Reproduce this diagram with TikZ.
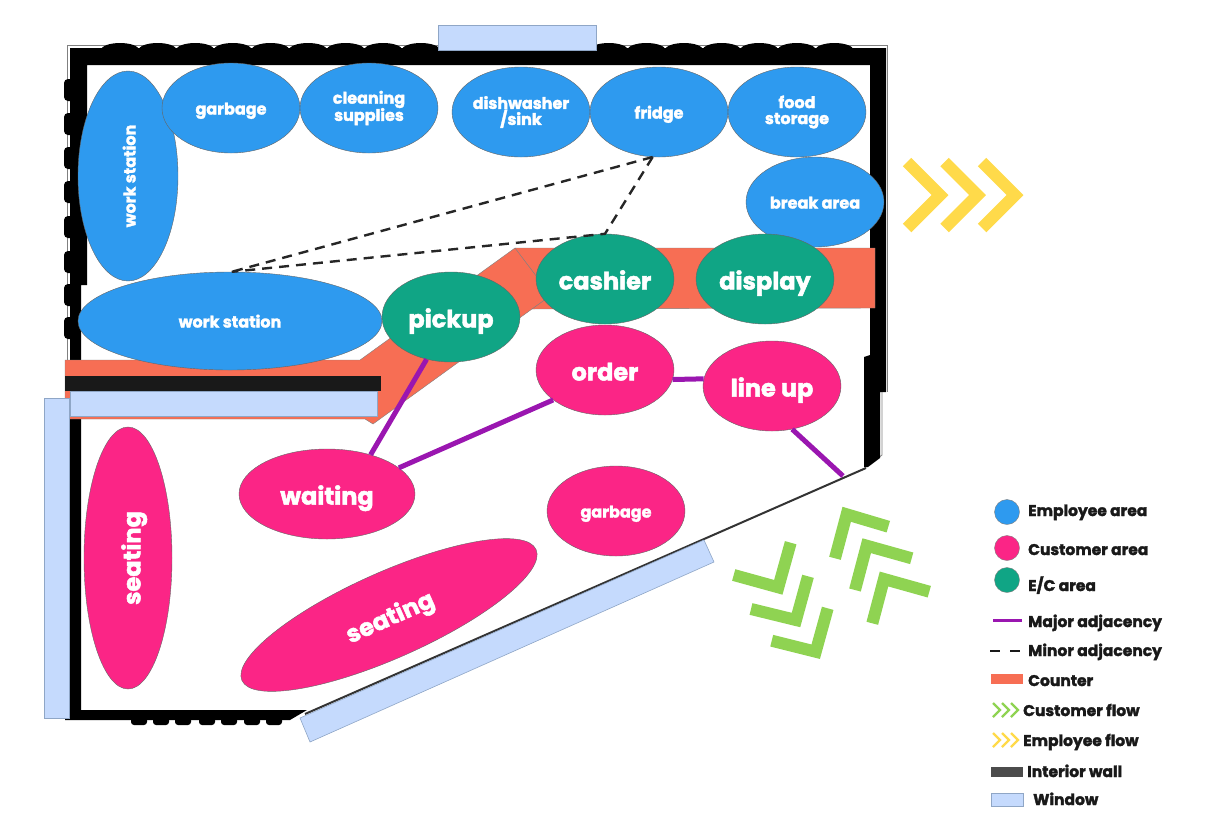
\documentclass[tikz,border=0pt]{standalone}
\usepackage{fontspec}
\setmainfont{Poppins}[FakeBold=2]
\usetikzlibrary{shapes.geometric}
\definecolor{employee}{HTML}{2E9AEF}
\definecolor{customer}{HTML}{FB2586}
\definecolor{shared}{HTML}{10A585}
\definecolor{major}{HTML}{9A16B0}
\definecolor{counter}{HTML}{F76E54}
\definecolor{glass}{HTML}{C5DAFD}
\definecolor{glassedge}{HTML}{8FA6C6}
\definecolor{custflow}{HTML}{8FD352}
\definecolor{empflow}{HTML}{FFDA4A}
\tikzset{
  room/.style={ellipse,draw=black!60,line width=0.4pt,inner sep=0pt,text=white,font=\bfseries,align=center},
  emp/.style={room,fill=employee,minimum width=138pt,minimum height=90pt},
  cust/.style={room,fill=customer,minimum width=138pt,minimum height=90pt},
  ec/.style={room,fill=shared,minimum width=138pt,minimum height=90pt},
  bigtext/.style={font=\fontsize{24}{24}\selectfont\bfseries,text height=21pt,text depth=0pt},
  smalltext/.style={font=\fontsize{16}{17}\selectfont\bfseries},
  onelinetext/.style={smalltext,text height=13pt,text depth=0pt},
  legendtext/.style={anchor=west,text=black!90,inner sep=0pt,text height=12pt,text depth=0pt,font=\fontsize{15.5}{16}\selectfont\bfseries},
  dot/.style={circle,draw=black!50,line width=0.4pt,minimum size=25pt,inner sep=0pt},
  majorline/.style={major,line width=5pt},
  minorline/.style={black!85,line width=2.4pt,dash pattern=on 10pt off 7pt},
  winpane/.style={fill=glass,draw=glassedge,line width=0.6pt},
  chev/.style={line width=12pt,miter limit=10},
  minichev/.style={line width=2.4pt}
}
\begin{document}
\begin{tikzpicture}[x=1pt,y=-1pt]
\useasboundingbox (0,0) rectangle (1208,823);
% Outer line
\draw[black!50,line width=0.8pt] (67,360) -- (67,45) -- (887,45) -- (887,392);
\draw[black!50,line width=0.8pt] (882,392) -- (882,455) -- (866,467);
% Walls
\fill[black] (70,48) -- (886,48) -- (886,392) -- (880,392) -- (880,458) -- (868,467) -- (864,467) -- (864,357)
  -- (870,355) -- (870,65) -- (87,65) -- (87,285) -- (81,285) -- (81,376) -- (70,376) -- cycle;
\foreach \x in {120,157.6,...,835} \fill[black] (\x,50) ellipse (19 and 7);
\foreach \y in {90,124,158,192,227,262,295,328} \fill[black,rounded corners=4pt] (64,\y-11) rectangle (76,\y+11);
\fill[black] (70,418) -- (81,418) -- (81,710) -- (307,710) -- (290,720) -- (65,720) -- (65,716) -- (70,716) -- cycle;
\foreach \x in {139,161,183,207,229,252,274} \fill[black,rounded corners=3pt] (\x-8,714) rectangle (\x+8,725);
\draw[black!80,line width=2pt] (305,714) -- (866,468);
% Counter
\fill[counter,draw=black!50,line width=0.4pt] (65,360) -- (360,360) -- (515,248) -- (875,248) -- (875,308)
  -- (532,309) -- (373,424) -- (365,419) -- (65,419) -- cycle;
\draw[black!50,line width=0.5pt] (515,248) -- (543,285) (532,309) -- (550,296);
\fill[black!90] (65,376) rectangle (381,391);
% Windows
\draw[winpane] (438,25) rectangle (596,50);
\draw[winpane] (70,391) rectangle (377,416);
\draw[winpane] (44,398) rectangle (69,718);
\draw[winpane] (300,718) -- (704,540) -- (714,562) -- (310,742) -- cycle;
% Employee area
\node[emp,minimum width=100pt,minimum height=210pt] (station) at (128,176) {};
\node[onelinetext,text=white,rotate=90] (stationtext) at (129,176) {work station};
\node[emp,onelinetext] (trash) at (231,108) {garbage};
\node[emp,smalltext] (cleaning) at (369,108) {cleaning\\[-1pt]supplies};
\node[emp,smalltext] (sink) at (521,112) {dishwasher\\[-1pt]/sink};
\node[emp,onelinetext] (fridge) at (659,112) {fridge};
\node[emp,smalltext] (storage) at (797,112) {food\\[-1pt]storage};
\node[emp,onelinetext] (breakarea) at (815,202) {break area};
\node[emp,onelinetext,minimum width=304pt,minimum height=98pt] (bench) at (230,321) {work station};
% E/C area
\node[ec,bigtext] (pickup) at (451,317) {pickup};
\node[ec,bigtext] (cashier) at (605,279) {cashier};
\node[ec,bigtext] (display) at (765,279) {display};
% Customer area
\node[cust,bigtext] (order) at (605,370) {order};
\node[cust,bigtext] (lineup) at (772,386) {line up};
\node[cust,bigtext,minimum width=176pt] (waiting) at (327,494) {waiting};
\node[cust,onelinetext] (trashtwo) at (616,511) {garbage};
\node[cust,minimum width=88pt,minimum height=262pt] (seatone) at (128,558) {};
\node[bigtext,text=white,rotate=90] (seatonetext) at (130,558) {seating};
\node[cust,bigtext,rotate=24,minimum width=322pt,minimum height=86pt] (seattwo) at (389,615) {seating};
% Adjacency
\coordinate (corner) at (843,476);
\draw[majorline] (pickup.240) -- (waiting.42);
\draw[majorline] (order.210) -- (waiting.20);
\draw[majorline] (order.-8) -- (lineup.174);
\draw[majorline] (lineup.-65) -- (corner);
\draw[minorline] (fridge.262) -- (bench.88);
\draw[minorline] (fridge.262) -- (cashier.north) -- (bench.88);
% Flow
\foreach \x in {907,944.5,982}
  \draw[chev,empflow] (\x,162) -- (\x+33,195) -- (\x,228);
\draw[chev,custflow] (733.7,575) -- (778.3,587.3) -- (790.7,542.7);
\draw[chev,custflow] (751,609) -- (796,620) -- (808,576.3);
\draw[chev,custflow] (771.7,640.7) -- (815.7,651.7) -- (827.7,608.3);
\draw[chev,custflow] (888.3,526.7) -- (846.7,514.3) -- (835,558.3);
\draw[chev,custflow] (911.7,558.3) -- (866.7,545.7) -- (855,590);
\draw[chev,custflow] (929.3,591.7) -- (884,579) -- (872.3,623.3);
% Legend
\node[dot,fill=employee] (keyemp) at (1007,512) {};
\node[dot,fill=customer] (keycust) at (1007,548) {};
\node[dot,fill=shared] (keyec) at (1007,580) {};
\node[legendtext] (labelemp) at (1028,510) {Employee area};
\node[legendtext] (labelcust) at (1028,549) {Customer area};
\node[legendtext] (labelec) at (1028,585) {E/C area};
\node[legendtext] (labelmajor) at (1028,621) {Major adjacency};
\node[legendtext] (labelminor) at (1028,650) {Minor adjacency};
\node[legendtext] (labelcounter) at (1028,680) {Counter};
\node[legendtext] (labelcf) at (1023,710) {Customer flow};
\node[legendtext] (labelef) at (1023,740) {Employee flow};
\node[legendtext] (labelwall) at (1027,771) {Interior wall};
\node[legendtext] (labelwin) at (1033,799) {Window};
\draw[major,line width=3pt] (993,620) -- (1022,620);
\draw[black!90,line width=1.6pt,dash pattern=on 10pt off 10pt] (990,651) -- (1021,651);
\fill[counter] (991,674) rectangle (1023,684);
\foreach \x in {993,1002,1011} {
  \draw[minichev,custflow] (\x,703) -- (\x+7,710) -- (\x,717);
  \draw[minichev,empflow] (\x,733) -- (\x+7,740) -- (\x,747);
}
\fill[black!70] (991,767) rectangle (1023,777);
\draw[winpane] (991,793) rectangle (1023,806);
\end{tikzpicture}
\end{document}
